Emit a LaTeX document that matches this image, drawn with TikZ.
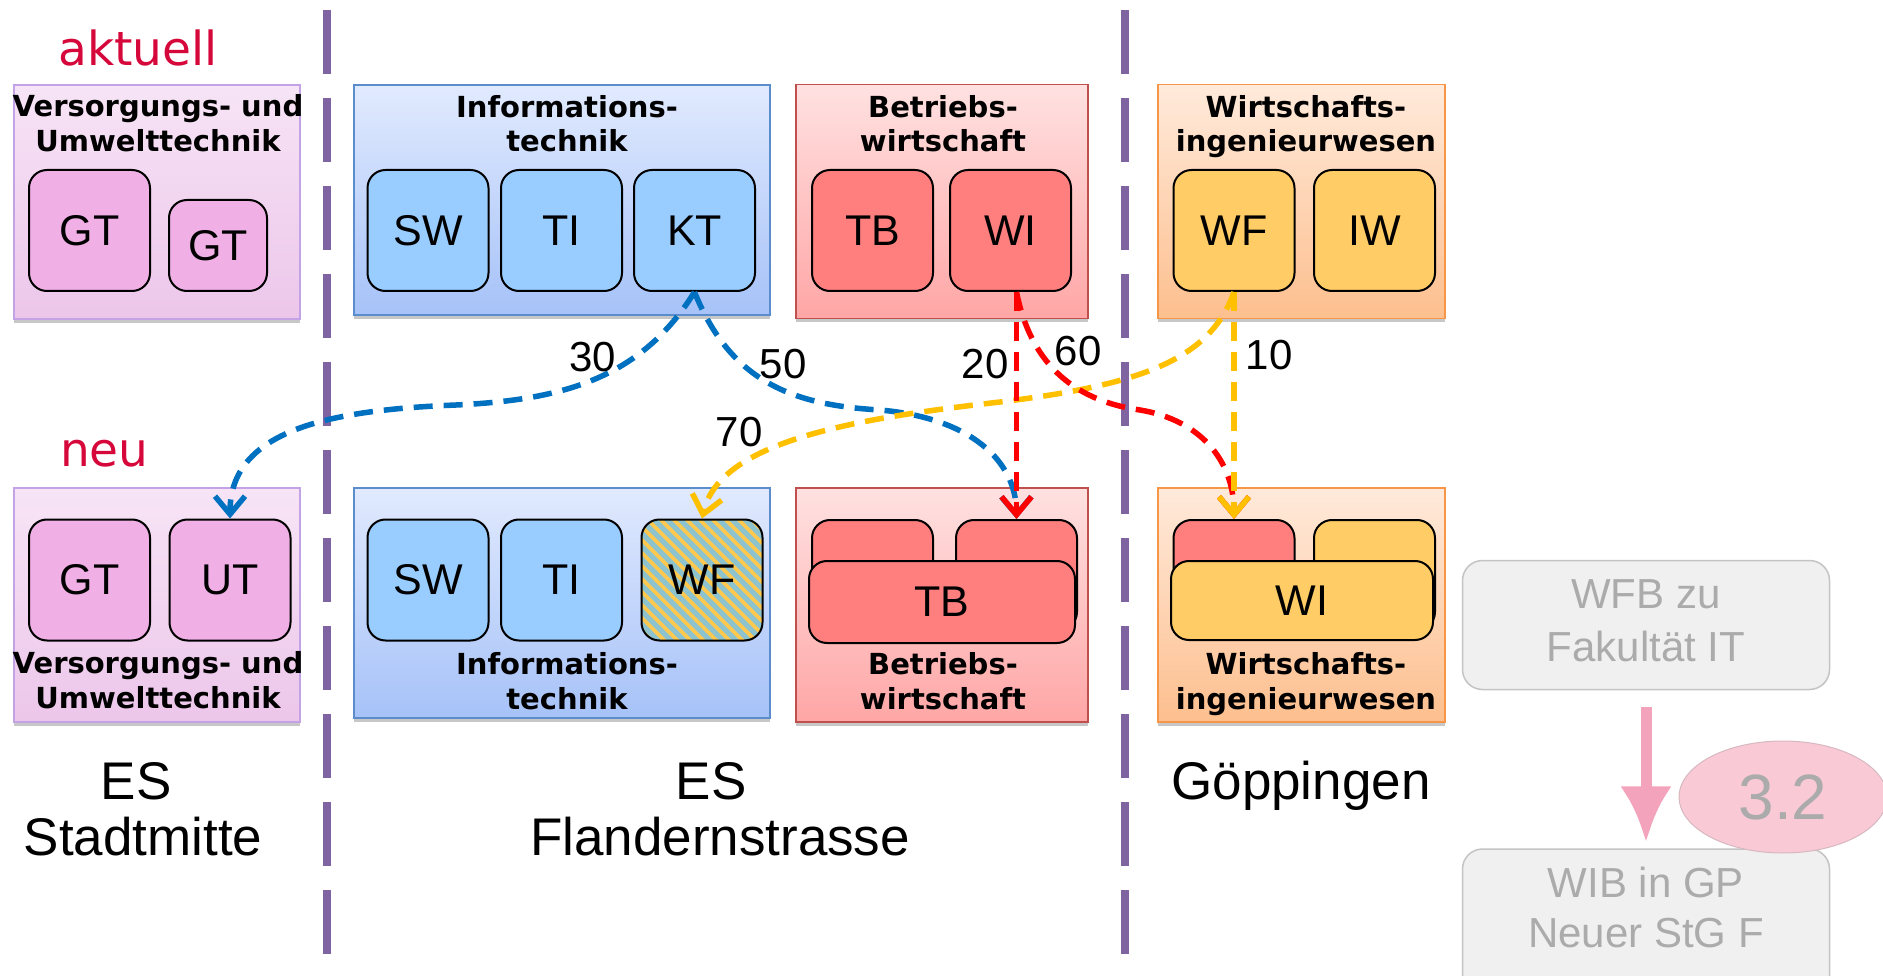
\documentclass[tikz,border=0pt]{standalone}
\usepackage{fontspec}
\setmainfont{Liberation Sans}
\newfontfamily\dejafont{DejaVu Sans}
\usetikzlibrary{arrows.meta,shapes.geometric,shadows}
\definecolor{vuTop}{HTML}{F7E4F6}
\definecolor{vuBot}{HTML}{ECC6EA}
\definecolor{vuBorder}{HTML}{C3A3E6}
\definecolor{vuSub}{HTML}{F0B0E6}
\definecolor{inTop}{HTML}{E1EAFE}
\definecolor{inBot}{HTML}{A6C2F8}
\definecolor{inBorder}{HTML}{5B8CCB}
\definecolor{inSub}{HTML}{99CCFF}
\definecolor{bwTop}{HTML}{FFE1E1}
\definecolor{bwBot}{HTML}{FFA6A6}
\definecolor{bwBorder}{HTML}{C0504D}
\definecolor{bwSub}{HTML}{FF7F7F}
\definecolor{wiTop}{HTML}{FFEADB}
\definecolor{wiBot}{HTML}{FDBF8E}
\definecolor{wiBorder}{HTML}{F79646}
\definecolor{wiSub}{HTML}{FFCC66}
\definecolor{purp}{HTML}{8064A2}
\definecolor{hdRed}{HTML}{D6083B}
\definecolor{blueA}{HTML}{0070C0}
\definecolor{redA}{HTML}{FF0000}
\definecolor{yelA}{HTML}{FFC000}
\definecolor{hatchBase}{HTML}{8DC3CE}
\definecolor{hatchY}{HTML}{FFC94F}
\definecolor{grFill}{HTML}{F0F0F0}
\definecolor{grBorder}{HTML}{C4C4C4}
\definecolor{grText}{HTML}{ABABAB}
\definecolor{pinkArr}{HTML}{F4A3BC}
\definecolor{ellPink}{HTML}{F9CAD6}
\definecolor{ellBorder}{HTML}{D8B8C0}
\newcommand\subfnt{\fontsize{43pt}{50pt}\selectfont}
\newcommand\ttlfnt{\dejafont\bfseries\fontsize{29pt}{34pt}\selectfont}
\newcommand\locfnt{\fontsize{53pt}{60pt}\selectfont}
\newcommand\numfnt{\fontsize{42pt}{48pt}\selectfont}
\newcommand\hdfnt{\dejafont\fontsize{47pt}{56pt}\selectfont}
\newcommand\grfnt{\fontsize{42pt}{48pt}\selectfont}
\begin{document}
\begin{tikzpicture}[x=1pt,y=-1pt,
  bigbox/.style={line width=1.6pt, inner sep=0pt, drop shadow={shadow xshift=0pt, shadow yshift=-4pt, fill=black!22, opacity=1}},
  vubox/.style={bigbox, draw=vuBorder, top color=vuTop, bottom color=vuBot, minimum width=286pt, minimum height=234pt},
  inbox/.style={bigbox, draw=inBorder, top color=inTop, bottom color=inBot, minimum width=416pt, minimum height=230pt},
  bwbox/.style={bigbox, draw=bwBorder, top color=bwTop, bottom color=bwBot, minimum width=292pt, minimum height=234pt},
  wibox/.style={bigbox, draw=wiBorder, top color=wiTop, bottom color=wiBot, minimum width=287pt, minimum height=234pt},
  sub/.style={draw=black, line width=2pt, rounded corners=18pt, inner sep=0pt, font=\subfnt, minimum width=121pt, minimum height=121pt},
  ttl/.style={font=\ttlfnt, anchor=base, inner sep=0pt},
  num/.style={font=\numfnt, inner sep=0pt},
  loc/.style={font=\locfnt, anchor=base, inner sep=0pt},
  hd/.style={font=\hdfnt, text=hdRed, anchor=base west, inner sep=0pt},
  conn/.style={line width=5.5pt, dash pattern=on 19pt off 11pt, -{Straight Barb[length=18pt,width=30pt]}},
  divider/.style={draw=purp, line width=8pt, dash pattern=on 64pt off 24pt},
  grbox/.style={draw=grBorder, line width=1.5pt, fill=grFill, rounded corners=20pt, minimum width=367pt, inner sep=0pt},
  grtxt/.style={font=\grfnt, text=grText, anchor=base, inner sep=0pt}
]
\useasboundingbox (0,0) rectangle (1883,976);
\fill[white] (0,0) rectangle (1883,976);

% dividers
\coordinate (d1a) at (327,10); \coordinate (d1b) at (327,965);
\coordinate (d2a) at (1125,10); \coordinate (d2b) at (1125,965);
\draw[divider] (d1a) -- (d1b);
\draw[divider] (d2a) -- (d2b);

% headings
\node[hd] (akt) at (58,66) {aktuell};
\node[hd] (neu) at (60,466) {neu};

% ---------- top row ----------
\node[vubox] (vuT) at (157,202) {};
\node[inbox] (inT) at (562,200) {};
\node[bwbox] (bwT) at (942,201.5) {};
\node[wibox] (wiT) at (1301.5,201.5) {};

\node[ttl] (vuT1) at (158,117) {Versorgungs- und};
\node[ttl] (vuT2) at (158,152) {Umwelttechnik};
\node[ttl] (inT1) at (567,118) {Informations-};
\node[ttl] (inT2) at (567,152) {technik};
\node[ttl] (bwT1) at (943,118) {Betriebs-};
\node[ttl] (bwT2) at (943,152) {wirtschaft};
\node[ttl] (wiT1) at (1306,118) {Wirtschafts-};
\node[ttl] (wiT2) at (1306,152) {ingenieurwesen};

\node[sub, fill=vuSub] (gt1) at (89.5,230.5) {GT};
\node[sub, fill=vuSub, minimum width=98pt, minimum height=91pt] (gt2) at (218,245.5) {GT};
\node[sub, fill=inSub] (sw) at (428,230.5) {SW};
\node[sub, fill=inSub] (ti) at (561.5,230.5) {TI};
\node[sub, fill=inSub] (kt) at (694.5,230.5) {KT};
\node[sub, fill=bwSub] (tb) at (872.5,230.5) {TB};
\node[sub, fill=bwSub] (wi) at (1010.5,230.5) {WI};
\node[sub, fill=wiSub] (wf) at (1234,230.5) {WF};
\node[sub, fill=wiSub] (iw) at (1374.5,230.5) {IW};

% ---------- bottom row ----------
\node[vubox] (vuB) at (157,605) {};
\node[inbox] (inB) at (562,603) {};
\node[bwbox] (bwB) at (942,605) {};
\node[wibox] (wiB) at (1301.5,605) {};

\node[sub, fill=vuSub] (gtB) at (89.5,580) {GT};
\node[sub, fill=vuSub] (ut) at (230,580) {UT};
\node[sub, fill=inSub] (swB) at (428,580) {SW};
\node[sub, fill=inSub] (tiB) at (561.5,580) {TI};
\node[sub, fill=hatchBase, path picture={
   \foreach \i in {-150,-137,...,140}{
     \draw[hatchY, line width=3.6pt] ([xshift=\i*1pt]path picture bounding box.north west) -- ++(150,150);
   }}] (wfh) at (702,580) {WF};
\node[sub, fill=bwSub, minimum height=110pt] (bwl) at (872.5,575) {};
\node[sub, fill=bwSub, minimum height=110pt] (bwr) at (1016.5,575) {};
\node[sub, fill=bwSub, minimum width=266pt, minimum height=82pt] (tbB) at (942,602) {TB};
\node[sub, fill=bwSub, minimum height=110pt] (wil) at (1234,575) {};
\node[sub, fill=wiSub, minimum height=110pt] (wir) at (1374.5,575) {};
\node[sub, fill=wiSub, minimum width=262pt, minimum height=79pt] (wiF) at (1302,600.5) {WI};

\node[ttl] (vuB1) at (158,673) {Versorgungs- und};
\node[ttl] (vuB2) at (158,708) {Umwelttechnik};
\node[ttl] (inB1) at (567,674) {Informations-};
\node[ttl] (inB2) at (567,709) {technik};
\node[ttl] (bwB1) at (943,674) {Betriebs-};
\node[ttl] (bwB2) at (943,709) {wirtschaft};
\node[ttl] (wiB1) at (1306,674) {Wirtschafts-};
\node[ttl] (wiB2) at (1306,709) {ingenieurwesen};

% locations
\node[loc] (es1) at (136,799) {ES};
\node[loc] (es1b) at (143,855) {Stadtmitte};
\node[loc] (es2) at (711,799) {ES};
\node[loc] (es2b) at (720,855) {Flandernstrasse};
\node[loc] (gp) at (1301,799) {Göppingen};

% ---------- connectors ----------
\coordinate (b1m) at (456,405);
\coordinate (b2m) at (880,410);
\coordinate (r4m) at (1140,410);
\coordinate (y5m) at (1000,402);
\coordinate (wiout) at (wi.south -| bwr.north);

\draw[conn, blueA] (kt.south) .. controls (640,380) and (560,400) .. (b1m)
   .. controls (330,410) and (230,430) .. (ut.north);
\draw[conn, blueA] (kt.south) .. controls (730,380) and (790,405) .. (b2m)
   .. controls (970,418) and (1016,460) .. (bwr.north);
\draw[conn, yelA] (wf.south) .. controls (1210,360) and (1140,385) .. (y5m)
   .. controls (860,418) and (720,440) .. (wfh.north);
\draw[conn, redA] (wiout) -- (bwr.north);
\draw[conn, redA] (wiout) .. controls (1030,360) and (1070,400) .. (r4m)
   .. controls (1200,420) and (1234,460) .. (wil.north);
\draw[conn, yelA] (wf.south) -- (wil.north);

\node[num] (n30) at (593,357) {30};
\node[num] (n50) at (783,364) {50};
\node[num] (n20) at (985,364) {20};
\node[num] (n60) at (1078,351) {60};
\node[num] (n10) at (1269,355) {10};
\node[num] (n70) at (739,432) {70};

% ---------- grey side ----------
\node[grbox, minimum height=129pt] (wfb) at (1646,625) {};
\node[grbox, minimum height=150pt] (wib) at (1646,924) {};
\node[grtxt] (wfb1) at (1646,608) {WFB zu};
\node[grtxt] (wfb2) at (1646,661) {Fakultät IT};
\node[grtxt] (wib1) at (1646,897) {WIB in GP};
\node[grtxt] (wib2) at (1646,947) {Neuer StG F};
\draw[pinkArr, line width=11pt, shorten <=17pt, shorten >=6pt, -{Latex[length=56pt,width=52pt]}] (wfb.south) -- (wib.north);
\node[ellipse, fill=ellPink, draw=ellBorder, line width=1pt, minimum width=208pt, minimum height=112pt, inner sep=0pt, font=\fontsize{64pt}{70pt}\selectfont, text=grText] (e32) at (1783,797) {3.2};
\end{tikzpicture}
\end{document}
